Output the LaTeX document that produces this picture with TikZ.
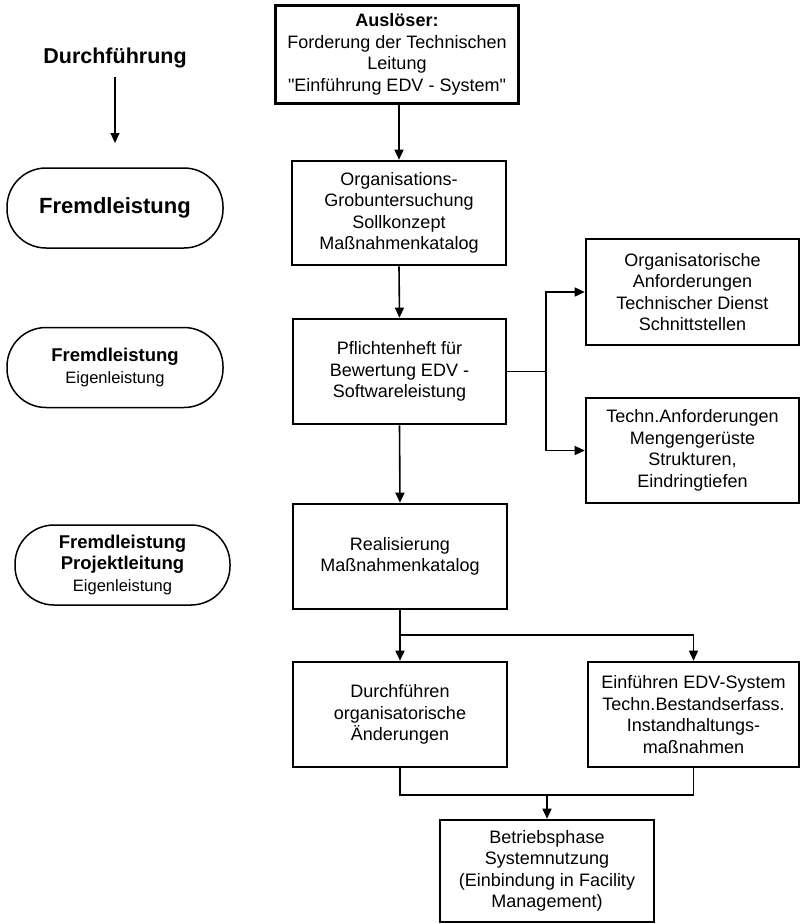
\documentclass[tikz,border=0pt]{standalone}
\usepackage{fontspec}
\setmainfont{Liberation Sans}[Ligatures=TeXOff]
\usetikzlibrary{arrows.meta}
\newcommand\bxf{\fontsize{18}{21.5}\selectfont}
\newcommand\pbig{\fontsize{18.5}{21}\selectfont\bfseries}
\newcommand\psmall{\fontsize{16.5}{20}\selectfont}
\newcommand\pillfont{\fontsize{18.5}{21.5}\selectfont}
\begin{document}
\begin{tikzpicture}[x=1pt,y=-1pt,
  box/.style={draw, line width=2.6pt, align=center, inner sep=0pt, font=\bxf},
  pill/.style={draw, line width=1.5pt, rounded corners=39pt, align=center, inner sep=0pt, minimum width=216pt, minimum height=80pt, font=\pillfont},
  conn/.style={line width=1.6pt},
  arr/.style={conn, -{Triangle[length=10pt,width=9pt]}}]
\useasboundingbox (0,0) rectangle (801,924);

% left column
\node[font=\fontsize{21.5}{24}\selectfont\bfseries] (durch) at (115,58) {Durchführung};
\coordinate (dtip) at (115,143);
\draw[arr, line width=1.2pt] (115,77) -- (dtip);
\node[pill, font=\fontsize{22}{26}\selectfont\bfseries] (p1) at (115,208) {Fremdleistung};
\node[pill] (p2) at (115,367.5) {{\pbig Fremdleistung}\\{\psmall Eigenleistung}};
\node[pill, minimum width=215pt] (p3) at (122.5,565) {{\pbig Fremdleistung}\\{\pbig Projektleitung}\\{\psmall Eigenleistung}};

% main boxes
\node[box, minimum width=243pt, minimum height=98pt] (b1) at (397,54.5)
  {\textbf{Auslöser:}\\Forderung der Technischen\\Leitung\\"Einführung EDV - System"};
\node[box, minimum width=214pt, minimum height=104pt] (b2) at (399,213)
  {Organisations-\\Grobuntersuchung\\Sollkonzept\\Maßnahmenkatalog};
\node[box, minimum width=213pt, minimum height=105pt] (b3) at (399.5,371.5)
  {Pflichtenheft für\\Bewertung EDV -\\Softwareleistung};
\node[box, minimum width=213pt, minimum height=106pt] (t1) at (692.5,292)
  {Organisatorische\\Anforderungen\\Technischer Dienst\\Schnittstellen};
\node[box, minimum width=213pt, minimum height=105pt] (t2) at (692.5,450.5)
  {Techn.Anforderungen\\Mengengerüste\\Strukturen,\\Eindringtiefen};
\node[box, minimum width=214pt, minimum height=105pt] (b4) at (400,556.5)
  {Realisierung\\Maßnahmenkatalog};
\node[box, minimum width=214pt, minimum height=105pt] (b5) at (400,714.5)
  {Durchführen\\organisatorische\\Änderungen};
\node[box, minimum width=211pt, minimum height=105pt] (b6) at (693.5,714.5)
  {Einführen EDV-System\\Techn.Bestandserfass.\\Instandhaltungs-\\maßnahmen};
\node[box, minimum width=214pt, minimum height=102pt] (b7) at (547,871)
  {Betriebsphase\\Systemnutzung\\(Einbindung in Facility\\Management)};

% connectors
\draw[arr] (b1.south -| b2.north) -- (b2.north);
\draw[arr] (b2.south) -- (b3.north);
\coordinate (br) at (546,371.5);
\draw[conn] (b3.east) -- (br);
\draw[arr] (br) |- (t1.west);
\draw[arr] (br) |- (t2.west);
\draw[arr] (b3.south) -- (b4.north);
\coordinate (sp) at (400,635);
\draw[arr] (b4.south) -- (b5.north);
\draw[arr] (sp) -| (b6.north);
\coordinate (mg) at (547,795);
\draw[conn] (b5.south) |- (mg) -| (b6.south);
\draw[arr] (mg) -- (b7.north);
\end{tikzpicture}
\end{document}
